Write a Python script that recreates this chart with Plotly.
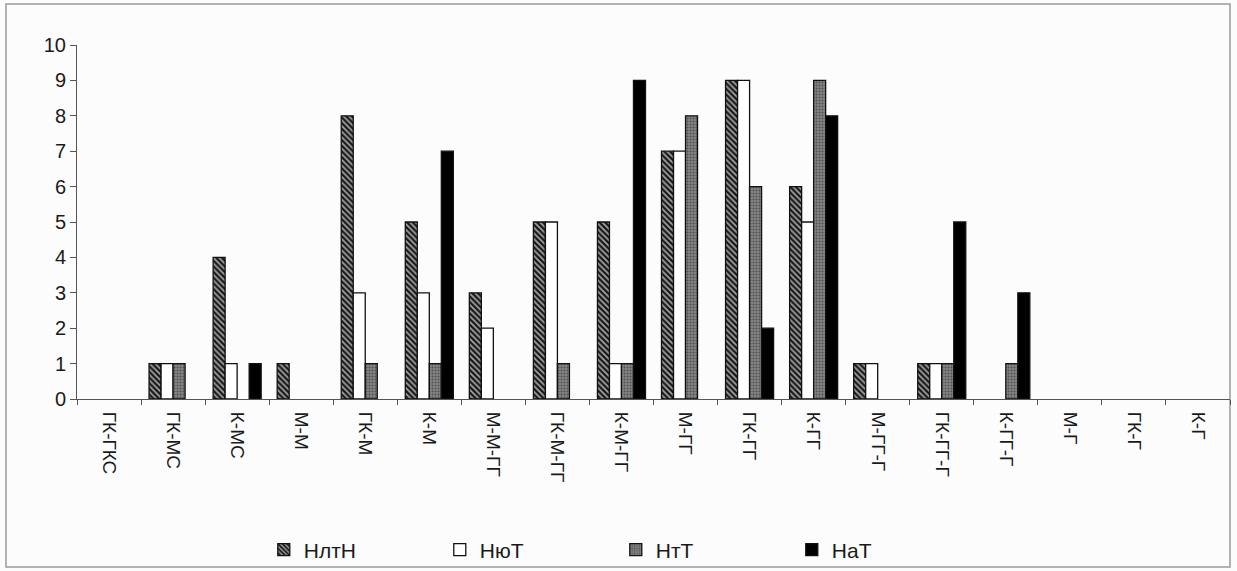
import plotly.graph_objects as go

categories = ["ГК-ГКС", "ГК-МС", "К-МС", "М-М", "ГК-М", "К-М", "М-М-ГГ", "ГК-М-ГГ",
              "К-М-ГГ", "М-ГГ", "ГК-ГГ", "К-ГГ", "М-ГГ-Г", "ГК-ГГ-Г", "К-ГГ-Г",
              "М-Г", "ГК-Г", "К-Г"]
series_names = ["НлтН", "НюТ", "НтТ", "НаТ"]
nltn = [0, 1, 4, 1, 8, 5, 3, 5, 5, 7, 9, 6, 1, 1, 0, 0, 0, 0]
nyut = [0, 1, 1, 0, 3, 3, 2, 5, 1, 7, 9, 5, 1, 1, 0, 0, 0, 0]
ntt = [0, 1, 0, 0, 1, 1, 0, 1, 1, 8, 6, 9, 0, 1, 1, 0, 0, 0]
nat = [0, 0, 1, 0, 0, 7, 0, 0, 9, 0, 2, 8, 0, 5, 3, 0, 0, 0]
y_ticks = [0, 1, 2, 3, 4, 5, 6, 7, 8, 9, 10]


def shown(vals):
    # empty (zero) bars are not drawn in the source chart
    return [v if v > 0 else None for v in vals]


line = dict(color="#111111", width=1.3)
fig = go.Figure()
fig.add_trace(go.Bar(x=categories, y=shown(nltn), name=series_names[0],
                     marker=dict(color="#d8d8d8", line=line,
                                 pattern=dict(shape="\\", fgcolor="#1a1a1a", bgcolor="#a8a8a8",
                                              size=4, solidity=0.6, fillmode="replace"))))
fig.add_trace(go.Bar(x=categories, y=shown(nyut), name=series_names[1],
                     marker=dict(color="#ffffff", line=line)))
fig.add_trace(go.Bar(x=categories, y=shown(ntt), name=series_names[2],
                     marker=dict(color="#7a7a7a", line=line,
                                 pattern=dict(shape=".", fgcolor="#505050", bgcolor="#868686",
                                              size=3, solidity=0.4, fillmode="replace"))))
fig.add_trace(go.Bar(x=categories, y=shown(nat), name=series_names[3],
                     marker=dict(color="#000000", line=line)))

fig.update_layout(
    width=1237, height=571,
    margin=dict(l=77, r=7, t=45, b=172, autoexpand=False),
    paper_bgcolor="#fcfcfc", plot_bgcolor="#fcfcfc",
    barmode="group", bargap=0.25, bargroupgap=0,
    font=dict(family="Liberation Sans, Arial, sans-serif", size=19, color="#1a1a1a"),
    showlegend=True,
    legend=dict(orientation="h", x=0.162, xanchor="left", y=-0.4266, yanchor="middle",
                entrywidth=131, entrywidthmode="pixels", font=dict(size=21),
                itemwidth=30, bgcolor="rgba(0,0,0,0)"),
    shapes=[dict(type="rect", xref="paper", yref="paper",
                 x0=-0.0616, x1=1.0, y0=-0.4746, y1=1.1158,
                 line=dict(color="#9a9a9a", width=1.5), fillcolor="rgba(0,0,0,0)", layer="below")],
)
fig.update_xaxes(type="category", tickangle=90, showline=True, linecolor="#555555", linewidth=1,
                 ticks="outside", ticklen=5, tickcolor="#555555", tickson="boundaries",
                 showgrid=False, tickfont=dict(size=19), ticklabelstandoff=8, automargin=False)
fig.update_yaxes(range=[0, 10], tickvals=y_ticks, showline=True, linecolor="#555555", linewidth=1,
                 ticks="outside", ticklen=6, tickcolor="#555555", showgrid=False, zeroline=False,
                 tickfont=dict(size=20), automargin=False)

fig.write_html("out.html")
